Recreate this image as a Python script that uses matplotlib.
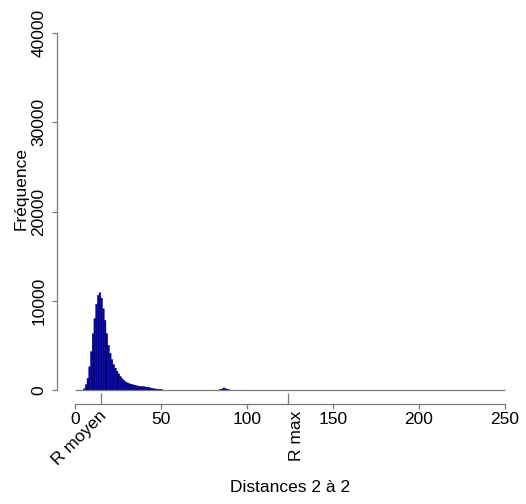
import numpy as np
import matplotlib
matplotlib.use("Agg")
import matplotlib.pyplot as plt

plt.rcParams['font.family'] = ['Liberation Sans', 'DejaVu Sans']

# Histogram: bins of width 1 from 0 to 250
bin_width = 1
x_min, x_max = 0, 250
# non-zero bin starts and their counts
bin_starts = [5, 6, 7, 8, 9, 10, 11, 12, 13, 14, 15, 16, 17, 18, 19, 20,
              21, 22, 23, 24, 25, 26, 27, 28, 29, 30, 31, 32, 33, 34, 35,
              36, 37, 38, 39, 40, 41, 42, 43, 44, 45, 46, 47, 48, 49, 50,
              84, 85, 86, 87, 88, 89]
bin_counts = [150, 600, 1300, 2600, 4300, 6300, 8000, 9600, 10600, 10900,
              10300, 9100, 7800, 6300, 5000, 4100, 3400, 2850, 2450, 2100,
              1800, 1500, 1250, 1050, 900, 800, 720, 650, 600, 550, 500,
              450, 420, 400, 380, 360, 330, 300, 250, 200, 150, 120, 100,
              80, 60, 50,
              40, 100, 230, 160, 60, 20]

r_moyen = 15.3
r_max = 123.7
x_ticks = [0, 50, 100, 150, 200, 250]
y_ticks = [0, 10000, 20000, 30000, 40000]

W, H = 526, 504
fig = plt.figure(figsize=(W / 100, H / 100), dpi=100)

# pixel geometry
px_per_x = (505 - 75) / 250.0
px_per_y = (390 - 33) / 40000.0
ax_l, ax_r, ax_b, ax_t = 57, 515, 404, 20
ax = fig.add_axes([ax_l / W, (H - ax_b) / H, (ax_r - ax_l) / W, (ax_b - ax_t) / H])
ax.set_xlim((ax_l - 75) / px_per_x, 250 + (ax_r - 505) / px_per_x)
ax.set_ylim(-(ax_b - 390) / px_per_y, (390 - ax_t) / px_per_y)

bars = ax.bar(bin_starts, bin_counts, width=bin_width, align='edge',
              color='#0000b8', edgecolor='#00003a', linewidth=0.3)
for b in bars:
    b.set_snap(False)
ax.hlines(0, x_min, x_max, color='#7a7a7a', linewidth=0.9)

for s in ['top', 'right']:
    ax.spines[s].set_visible(False)
for s in ['left', 'bottom']:
    ax.spines[s].set_color('#7a7a7a')
    ax.spines[s].set_linewidth(0.9)
ax.spines['left'].set_bounds(0, 40000)
ax.spines['bottom'].set_bounds(0, 250)

ax.set_xticks(x_ticks)
ax.set_xticklabels([str(t) for t in x_ticks])
ax.set_yticks(y_ticks)
ax.set_yticklabels([str(t) for t in y_ticks], rotation=90, va='center')
ax.tick_params(axis='both', which='major', length=3.5, width=0.9, color='#7a7a7a',
               labelsize=12.5, direction='out')
ax.tick_params(axis='x', pad=2)
ax.tick_params(axis='y', pad=4)

ax.set_xticks([r_moyen, r_max], minor=True)
ax.tick_params(axis='x', which='minor', direction='in', length=8, width=0.9,
               color='#7a7a7a', labelbottom=False)

xt = ax.get_xaxis_transform()
ax.annotate('R moyen', xy=(r_moyen, 0), xycoords=xt, xytext=(2, -7),
            textcoords='offset points', rotation=45, rotation_mode='anchor',
            ha='right', va='center', fontsize=12.5)
ax.annotate('R max', xy=(r_max, 0), xycoords=xt, xytext=(6, -5),
            textcoords='offset points', rotation=90, rotation_mode='anchor',
            ha='right', va='center', fontsize=12.5)

fig.text(290 / W, 1 - 487 / H, 'Distances 2 à 2', ha='center', va='center', fontsize=12.5)
fig.text(21 / W, 1 - 188 / H, 'Fréquence', ha='center', va='center', rotation=90, fontsize=12.5)

fig.savefig('out.png', dpi=100)
